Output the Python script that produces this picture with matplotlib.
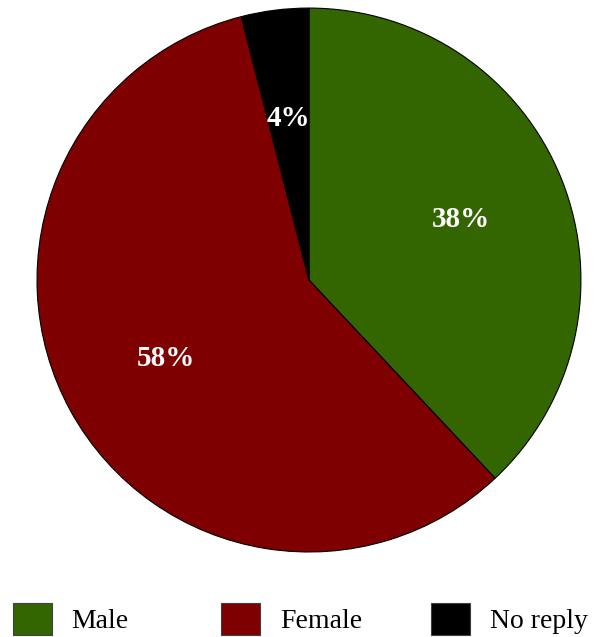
"""Pie chart of respondents by gender."""

import matplotlib.pyplot as plt

labels = ["Male", "Female", "No reply"]
shares = [38, 58, 4]
colors = ["#336600", "#7f0000", "#000000"]

plt.rcParams["font.family"] = ["Liberation Serif", "DejaVu Serif"]

fig = plt.figure(figsize=(6.03, 6.37), dpi=100)
ax = fig.add_axes([0.0614, 0.1334, 0.902, 0.854])

wedges, _, autotexts = ax.pie(
    shares,
    colors=colors,
    startangle=90,
    counterclock=False,
    autopct="%d%%",
    pctdistance=0.6,
    wedgeprops={"edgecolor": "black", "linewidth": 0.8},
    textprops={"color": "white", "fontsize": 21, "fontweight": "bold"},
)
ax.set_aspect("equal")
ax.set_xlim(-1.0, 1.0)
ax.set_ylim(-1.0, 1.0)

# one legend per entry so the columns sit at even spacing like the original
x_starts = [0.012, 0.358, 0.706]
for wedge, label, x0 in zip(wedges, labels, x_starts):
    leg = fig.legend(
        [wedge], [label],
        loc="lower left",
        bbox_to_anchor=(x0, -0.005),
        frameon=False,
        fontsize=20,
        handlelength=1.4,
        handleheight=1.35,
        handletextpad=0.7,
        borderpad=0.2,
        borderaxespad=0.0,
    )
    for patch in leg.get_patches():
        patch.set_edgecolor("#404040")
        patch.set_linewidth(0.8)

fig.savefig("out.png", dpi=100)
plt.close(fig)
